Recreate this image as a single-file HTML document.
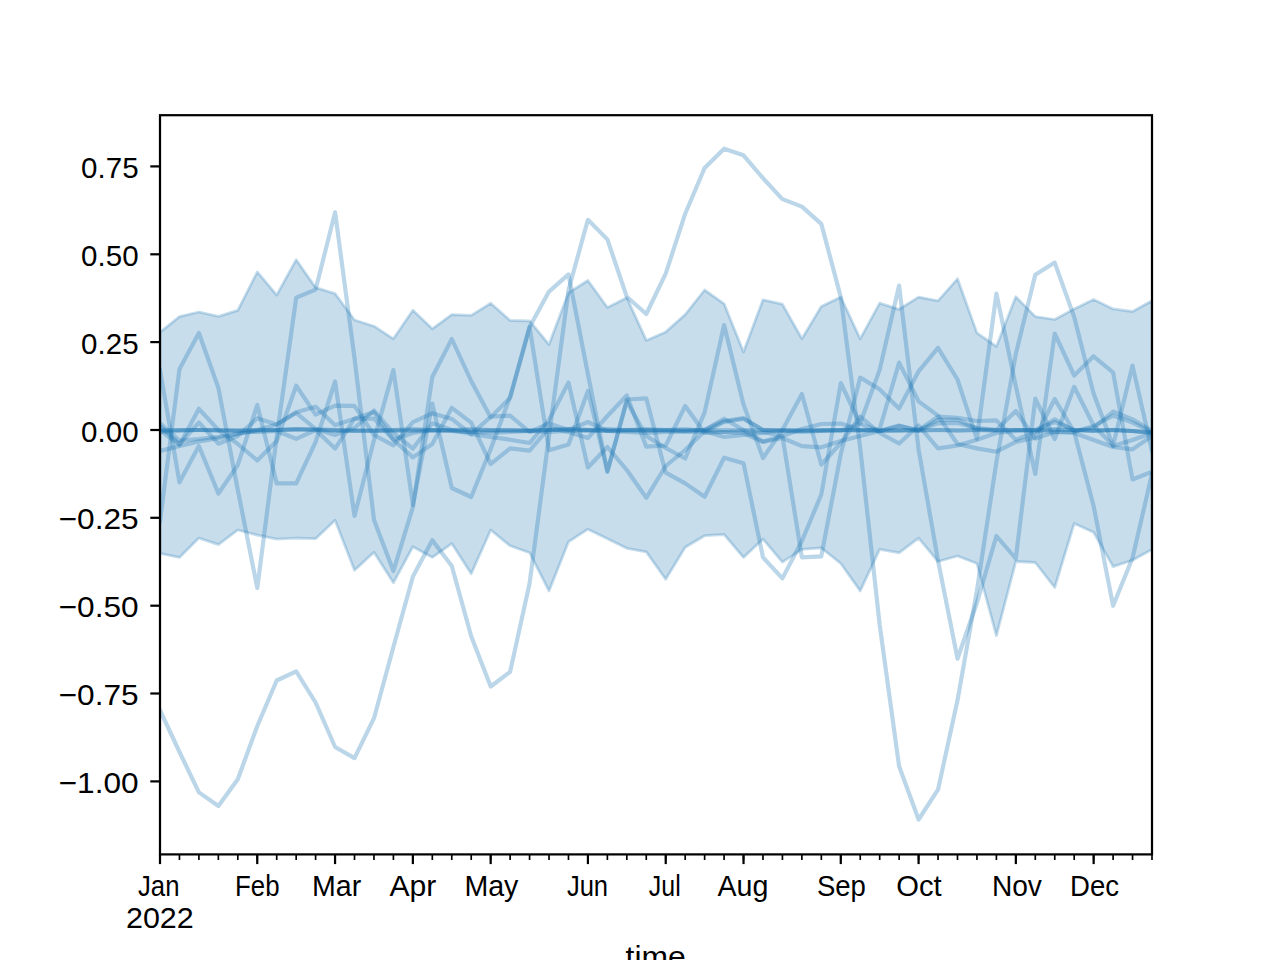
<!DOCTYPE html><html><head><meta charset="utf-8"><style>html,body{margin:0;padding:0;background:#fff}svg{display:block}text{font-family:"Liberation Sans",sans-serif;fill:#000}</style></head><body>
<svg width="1280" height="960" viewBox="0 0 1280 960">
<rect width="1280" height="960" fill="#fff"/>
<defs><clipPath id="ax"><rect x="160" y="115.2" width="992" height="739.2"/></clipPath></defs>
<g clip-path="url(#ax)">
<polygon points="160.0,332.3 179.5,316.6 198.9,312.0 218.4,316.4 237.8,310.3 257.3,271.9 276.7,295.1 296.2,259.7 315.6,287.6 335.1,293.7 354.5,320.0 374.0,326.2 393.4,338.8 412.9,310.3 432.3,328.8 451.8,314.6 471.2,315.4 490.7,303.2 510.1,320.5 529.6,320.9 549.0,344.5 568.5,292.7 587.9,280.5 607.4,307.5 626.8,297.7 646.3,340.4 665.7,331.9 685.2,314.6 704.6,290.0 724.1,303.8 743.5,352.0 763.0,299.8 782.4,304.2 801.9,338.8 821.3,306.5 840.8,297.1 860.2,338.8 879.7,303.2 899.1,309.3 918.6,297.1 938.0,300.8 957.5,278.8 976.9,332.9 996.4,346.5 1015.8,296.7 1035.3,316.6 1054.7,319.5 1074.2,308.9 1093.6,299.4 1113.1,308.9 1132.5,311.5 1152.0,300.8 1152.0,549.5 1132.5,560.2 1113.1,566.6 1093.6,532.2 1074.2,523.4 1054.7,587.5 1035.3,562.5 1015.8,561.5 996.4,635.7 976.9,563.5 957.5,556.0 938.0,561.5 918.6,538.1 899.1,552.8 879.7,549.3 860.2,590.9 840.8,563.5 821.3,547.9 801.9,549.3 782.4,562.1 763.0,539.1 743.5,557.4 724.1,534.5 704.6,535.7 685.2,547.3 665.7,579.2 646.3,551.9 626.8,548.3 607.4,538.7 587.9,529.2 568.5,541.8 549.0,590.9 529.6,552.7 510.1,545.8 490.7,530.0 471.2,573.7 451.8,543.6 432.3,557.4 412.9,546.7 393.4,582.8 374.0,552.3 354.5,570.2 335.1,520.3 315.6,538.7 296.2,538.1 276.7,539.1 257.3,535.1 237.8,530.0 218.4,544.6 198.9,538.1 179.5,557.4 160.0,553.4" fill="#1f77b4" fill-opacity="0.25" stroke="#1f77b4" stroke-opacity="0.25" stroke-width="2.78" stroke-linejoin="round"/>
<polyline points="160.0,710.2 179.5,752.0 198.9,792.4 218.4,806.0 237.8,779.2 257.3,726.0 276.7,680.5 296.2,671.4 315.6,702.5 335.1,747.0 354.5,758.1 374.0,718.2 393.4,647.0 412.9,576.5 432.3,540.2 451.8,566.0 471.2,636.3 490.7,686.5 510.1,671.9 529.6,583.3 549.0,436.0 568.5,290.0 587.9,219.8 607.4,239.4 626.8,296.8 646.3,314.0 665.7,273.7 685.2,213.7 704.6,168.0 724.1,148.7 743.5,155.3 763.0,178.2 782.4,199.1 801.9,206.6 821.3,223.9 840.8,297.1 860.2,448.0 879.7,625.0 899.1,766.3 918.6,819.5 938.0,789.7 957.5,700.3 976.9,590.6 996.4,462.0 1015.8,354.0 1035.3,274.8 1054.7,262.6 1074.2,317.0 1093.6,393.5 1113.1,446.0 1132.5,440.0 1152.0,433.0" fill="none" stroke="#1f77b4" stroke-opacity="0.3" stroke-width="4.17" stroke-linejoin="round" stroke-linecap="square"/>
<polyline points="160.0,521.0 179.5,369.0 198.9,333.0 218.4,388.0 237.8,490.0 257.3,588.0 276.7,437.0 296.2,297.7 315.6,289.6 335.1,212.3 354.5,358.0 374.0,520.0 393.4,571.0 412.9,507.0 432.3,377.0 451.8,339.0 471.2,381.0 490.7,417.4 510.1,397.6 529.6,327.0 549.0,291.6 568.5,274.4 587.9,374.0 607.4,472.0 626.8,399.5 646.3,398.4 665.7,472.7 685.2,483.4 704.6,496.7 724.1,457.7 743.5,463.2 763.0,557.4 782.4,578.4 801.9,541.0 821.3,494.5 840.8,383.0 860.2,424.0 879.7,431.0 899.1,426.0 918.6,430.0 938.0,416.7 957.5,417.8 976.9,421.0 996.4,420.4 1015.8,439.7 1035.3,432.0 1054.7,419.3 1074.2,431.0 1093.6,428.0 1113.1,411.5 1132.5,419.4 1152.0,431.0" fill="none" stroke="#1f77b4" stroke-opacity="0.3" stroke-width="4.17" stroke-linejoin="round" stroke-linecap="square"/>
<polyline points="160.0,370.0 179.5,482.3 198.9,446.0 218.4,493.5 237.8,465.0 257.3,405.0 276.7,483.4 296.2,483.4 315.6,442.0 335.1,381.5 354.5,516.0 374.0,440.0 393.4,370.0 412.9,505.0 432.3,403.5 451.8,488.0 471.2,497.0 490.7,449.0 510.1,397.0 529.6,327.0 549.0,450.3 568.5,444.5 587.9,391.0 607.4,471.0 626.8,401.5 646.3,436.0 665.7,448.0 685.2,458.5 704.6,412.4 724.1,325.0 743.5,404.4 763.0,458.0 782.4,430.0 801.9,394.0 821.3,464.5 840.8,443.0 860.2,416.5 879.7,433.0 899.1,443.5 918.6,425.5 938.0,448.4 957.5,445.5 976.9,439.7 996.4,433.0 1015.8,431.0 1035.3,430.0 1054.7,429.0 1074.2,430.0 1093.6,431.0 1113.1,430.0 1132.5,431.0 1152.0,432.0" fill="none" stroke="#1f77b4" stroke-opacity="0.3" stroke-width="4.17" stroke-linejoin="round" stroke-linecap="square"/>
<polyline points="160.0,430.0 179.5,445.0 198.9,408.8 218.4,430.0 237.8,444.0 257.3,460.5 276.7,441.0 296.2,385.7 315.6,414.7 335.1,405.6 354.5,405.8 374.0,435.0 393.4,445.3 412.9,422.2 432.3,413.3 451.8,418.9 471.2,434.4 490.7,416.7 510.1,415.6 529.6,432.0 549.0,423.5 568.5,430.0 587.9,422.0 607.4,431.0 626.8,431.0 646.3,430.0 665.7,431.0 685.2,432.0 704.6,432.0 724.1,422.0 743.5,419.0 763.0,430.0 782.4,431.0 801.9,432.0 821.3,431.0 840.8,430.0 860.2,431.0 879.7,429.0 899.1,362.6 918.6,401.4 938.0,415.6 957.5,444.0 976.9,448.4 996.4,451.7 1015.8,441.9 1035.3,437.5 1054.7,399.0 1074.2,432.0 1093.6,506.0 1113.1,605.8 1132.5,558.0 1152.0,473.8" fill="none" stroke="#1f77b4" stroke-opacity="0.3" stroke-width="4.17" stroke-linejoin="round" stroke-linecap="square"/>
<polyline points="160.0,451.0 179.5,446.0 198.9,441.4 218.4,438.3 237.8,434.0 257.3,430.0 276.7,424.4 296.2,412.2 315.6,406.7 335.1,425.3 354.5,418.7 374.0,418.7 393.4,439.7 412.9,457.4 432.3,444.0 451.8,407.8 471.2,422.7 490.7,464.0 510.1,448.4 529.6,450.6 549.0,428.0 568.5,432.0 587.9,438.0 607.4,416.0 626.8,395.5 646.3,446.7 665.7,445.5 685.2,406.0 704.6,433.0 724.1,432.0 743.5,431.0 763.0,432.0 782.4,436.0 801.9,557.4 821.3,556.4 840.8,454.0 860.2,377.5 879.7,389.4 899.1,408.5 918.6,371.3 938.0,347.8 957.5,379.5 976.9,438.8 996.4,293.6 1015.8,386.0 1035.3,474.0 1054.7,333.5 1074.2,375.5 1093.6,356.3 1113.1,372.5 1132.5,479.5 1152.0,471.7" fill="none" stroke="#1f77b4" stroke-opacity="0.3" stroke-width="4.17" stroke-linejoin="round" stroke-linecap="square"/>
<polyline points="160.0,426.0 179.5,444.0 198.9,422.5 218.4,443.7 237.8,436.0 257.3,418.2 276.7,424.4 296.2,412.8 315.6,429.0 335.1,435.0 354.5,428.0 374.0,410.5 393.4,433.0 412.9,448.6 432.3,423.3 451.8,430.0 471.2,434.0 490.7,437.0 510.1,439.7 529.6,443.0 549.0,420.0 568.5,382.5 587.9,467.5 607.4,447.0 626.8,470.0 646.3,497.8 665.7,466.0 685.2,450.0 704.6,431.0 724.1,437.0 743.5,435.0 763.0,433.0 782.4,430.0 801.9,431.0 821.3,430.0 840.8,431.0 860.2,423.3 879.7,369.6 899.1,285.5 918.6,449.5 938.0,560.5 957.5,658.7 976.9,602.8 996.4,536.0 1015.8,558.5 1035.3,398.7 1054.7,439.0 1074.2,386.8 1093.6,425.5 1113.1,445.5 1132.5,365.6 1152.0,451.0" fill="none" stroke="#1f77b4" stroke-opacity="0.3" stroke-width="4.17" stroke-linejoin="round" stroke-linecap="square"/>
<polyline points="160.0,430.0 179.5,430.0 198.9,430.0 218.4,430.0 237.8,430.0 257.3,430.0 276.7,430.0 296.2,430.0 315.6,430.0 335.1,430.0 354.5,430.0 374.0,431.0 393.4,431.0 412.9,430.0 432.3,430.0 451.8,430.0 471.2,430.0 490.7,430.0 510.1,430.0 529.6,430.0 549.0,430.0 568.5,429.0 587.9,430.0 607.4,430.0 626.8,430.0 646.3,430.0 665.7,430.0 685.2,430.0 704.6,430.0 724.1,430.0 743.5,430.0 763.0,430.0 782.4,430.0 801.9,430.0 821.3,430.0 840.8,430.0 860.2,430.0 879.7,430.0 899.1,430.0 918.6,430.0 938.0,430.0 957.5,430.0 976.9,430.0 996.4,430.0 1015.8,430.0 1035.3,430.0 1054.7,430.0 1074.2,430.0 1093.6,430.0 1113.1,430.0 1132.5,431.0 1152.0,433.0" fill="none" stroke="#1f77b4" stroke-opacity="0.3" stroke-width="4.17" stroke-linejoin="round" stroke-linecap="square"/>
<polyline points="160.0,431.0 179.5,430.0 198.9,430.0 218.4,431.0 237.8,431.0 257.3,430.0 276.7,430.0 296.2,429.0 315.6,430.0 335.1,431.0 354.5,431.0 374.0,430.0 393.4,430.0 412.9,431.0 432.3,431.0 451.8,430.0 471.2,429.0 490.7,430.0 510.1,431.0 529.6,431.0 549.0,430.0 568.5,430.0 587.9,431.0 607.4,431.0 626.8,430.0 646.3,429.0 665.7,430.0 685.2,431.0 704.6,430.0 724.1,421.0 743.5,418.0 763.0,430.0 782.4,431.0 801.9,431.0 821.3,431.0 840.8,430.0 860.2,430.0 879.7,431.0 899.1,431.0 918.6,430.0 938.0,423.3 957.5,423.0 976.9,428.0 996.4,430.0 1015.8,430.0 1035.3,430.0 1054.7,422.0 1074.2,430.0 1093.6,431.0 1113.1,430.0 1132.5,431.0 1152.0,433.0" fill="none" stroke="#1f77b4" stroke-opacity="0.3" stroke-width="4.17" stroke-linejoin="round" stroke-linecap="square"/>
<polyline points="160.0,423.4 179.5,440.6 198.9,439.0 218.4,436.7 237.8,433.5 257.3,431.0 276.7,430.0 296.2,429.0 315.6,429.0 335.1,430.0 354.5,431.0 374.0,431.0 393.4,430.0 412.9,429.0 432.3,430.0 451.8,431.0 471.2,432.0 490.7,433.0 510.1,432.0 529.6,431.0 549.0,430.0 568.5,429.0 587.9,430.0 607.4,431.0 626.8,432.0 646.3,433.0 665.7,432.0 685.2,431.0 704.6,430.0 724.1,418.7 743.5,430.0 763.0,441.5 782.4,436.0 801.9,429.0 821.3,424.0 840.8,423.6 860.2,430.0 879.7,431.0 899.1,425.5 918.6,431.0 938.0,420.0 957.5,419.6 976.9,429.0 996.4,430.0 1015.8,411.0 1035.3,438.6 1054.7,432.0 1074.2,432.0 1093.6,426.0 1113.1,415.6 1132.5,422.6 1152.0,432.0" fill="none" stroke="#1f77b4" stroke-opacity="0.3" stroke-width="4.17" stroke-linejoin="round" stroke-linecap="square"/>
<polyline points="160.0,432.0 179.5,431.0 198.9,430.0 218.4,430.0 237.8,431.0 257.3,432.0 276.7,431.0 296.2,438.8 315.6,430.0 335.1,448.6 354.5,418.7 374.0,412.0 393.4,439.7 412.9,433.0 432.3,430.0 451.8,431.0 471.2,432.0 490.7,431.0 510.1,430.0 529.6,431.0 549.0,432.0 568.5,431.0 587.9,430.0 607.4,429.0 626.8,430.0 646.3,431.0 665.7,430.0 685.2,429.0 704.6,431.0 724.1,432.0 743.5,433.0 763.0,442.0 782.4,438.0 801.9,446.2 821.3,447.3 840.8,441.0 860.2,436.0 879.7,431.0 899.1,430.0 918.6,431.0 938.0,430.0 957.5,431.0 976.9,430.0 996.4,431.0 1015.8,430.0 1035.3,431.0 1054.7,432.0 1074.2,433.0 1093.6,440.0 1113.1,447.0 1132.5,449.4 1152.0,436.0" fill="none" stroke="#1f77b4" stroke-opacity="0.3" stroke-width="4.17" stroke-linejoin="round" stroke-linecap="square"/>
</g>
<rect x="160" y="115.2" width="992" height="739.2" fill="none" stroke="#000" stroke-width="2.22" />
<line x1="150.3" x2="160" y1="166.4" y2="166.4" stroke="#000" stroke-width="2.22"/>
<text x="138.6" y="177.9" font-size="29.5" text-anchor="end" textLength="57.5" lengthAdjust="spacingAndGlyphs">0.75</text>
<line x1="150.3" x2="160" y1="254.3" y2="254.3" stroke="#000" stroke-width="2.22"/>
<text x="138.6" y="265.8" font-size="29.5" text-anchor="end" textLength="57.5" lengthAdjust="spacingAndGlyphs">0.50</text>
<line x1="150.3" x2="160" y1="342.1" y2="342.1" stroke="#000" stroke-width="2.22"/>
<text x="138.6" y="353.6" font-size="29.5" text-anchor="end" textLength="57.5" lengthAdjust="spacingAndGlyphs">0.25</text>
<line x1="150.3" x2="160" y1="430.0" y2="430.0" stroke="#000" stroke-width="2.22"/>
<text x="138.6" y="441.5" font-size="29.5" text-anchor="end" textLength="57.5" lengthAdjust="spacingAndGlyphs">0.00</text>
<line x1="150.3" x2="160" y1="517.8" y2="517.8" stroke="#000" stroke-width="2.22"/>
<text x="138.6" y="529.3" font-size="29.5" text-anchor="end" textLength="80" lengthAdjust="spacingAndGlyphs">−0.25</text>
<line x1="150.3" x2="160" y1="605.7" y2="605.7" stroke="#000" stroke-width="2.22"/>
<text x="138.6" y="617.2" font-size="29.5" text-anchor="end" textLength="80" lengthAdjust="spacingAndGlyphs">−0.50</text>
<line x1="150.3" x2="160" y1="693.5" y2="693.5" stroke="#000" stroke-width="2.22"/>
<text x="138.6" y="705.0" font-size="29.5" text-anchor="end" textLength="80" lengthAdjust="spacingAndGlyphs">−0.75</text>
<line x1="150.3" x2="160" y1="781.4" y2="781.4" stroke="#000" stroke-width="2.22"/>
<text x="138.6" y="792.9" font-size="29.5" text-anchor="end" textLength="80" lengthAdjust="spacingAndGlyphs">−1.00</text>
<line x1="160.00" x2="160.00" y1="854.4" y2="860" stroke="#000" stroke-width="1.67"/>
<line x1="179.45" x2="179.45" y1="854.4" y2="860" stroke="#000" stroke-width="1.67"/>
<line x1="198.90" x2="198.90" y1="854.4" y2="860" stroke="#000" stroke-width="1.67"/>
<line x1="218.35" x2="218.35" y1="854.4" y2="860" stroke="#000" stroke-width="1.67"/>
<line x1="237.80" x2="237.80" y1="854.4" y2="860" stroke="#000" stroke-width="1.67"/>
<line x1="257.25" x2="257.25" y1="854.4" y2="860" stroke="#000" stroke-width="1.67"/>
<line x1="276.71" x2="276.71" y1="854.4" y2="860" stroke="#000" stroke-width="1.67"/>
<line x1="296.16" x2="296.16" y1="854.4" y2="860" stroke="#000" stroke-width="1.67"/>
<line x1="315.61" x2="315.61" y1="854.4" y2="860" stroke="#000" stroke-width="1.67"/>
<line x1="335.06" x2="335.06" y1="854.4" y2="860" stroke="#000" stroke-width="1.67"/>
<line x1="354.51" x2="354.51" y1="854.4" y2="860" stroke="#000" stroke-width="1.67"/>
<line x1="373.96" x2="373.96" y1="854.4" y2="860" stroke="#000" stroke-width="1.67"/>
<line x1="393.41" x2="393.41" y1="854.4" y2="860" stroke="#000" stroke-width="1.67"/>
<line x1="412.86" x2="412.86" y1="854.4" y2="860" stroke="#000" stroke-width="1.67"/>
<line x1="432.31" x2="432.31" y1="854.4" y2="860" stroke="#000" stroke-width="1.67"/>
<line x1="451.76" x2="451.76" y1="854.4" y2="860" stroke="#000" stroke-width="1.67"/>
<line x1="471.22" x2="471.22" y1="854.4" y2="860" stroke="#000" stroke-width="1.67"/>
<line x1="490.67" x2="490.67" y1="854.4" y2="860" stroke="#000" stroke-width="1.67"/>
<line x1="510.12" x2="510.12" y1="854.4" y2="860" stroke="#000" stroke-width="1.67"/>
<line x1="529.57" x2="529.57" y1="854.4" y2="860" stroke="#000" stroke-width="1.67"/>
<line x1="549.02" x2="549.02" y1="854.4" y2="860" stroke="#000" stroke-width="1.67"/>
<line x1="568.47" x2="568.47" y1="854.4" y2="860" stroke="#000" stroke-width="1.67"/>
<line x1="587.92" x2="587.92" y1="854.4" y2="860" stroke="#000" stroke-width="1.67"/>
<line x1="607.37" x2="607.37" y1="854.4" y2="860" stroke="#000" stroke-width="1.67"/>
<line x1="626.82" x2="626.82" y1="854.4" y2="860" stroke="#000" stroke-width="1.67"/>
<line x1="646.27" x2="646.27" y1="854.4" y2="860" stroke="#000" stroke-width="1.67"/>
<line x1="665.73" x2="665.73" y1="854.4" y2="860" stroke="#000" stroke-width="1.67"/>
<line x1="685.18" x2="685.18" y1="854.4" y2="860" stroke="#000" stroke-width="1.67"/>
<line x1="704.63" x2="704.63" y1="854.4" y2="860" stroke="#000" stroke-width="1.67"/>
<line x1="724.08" x2="724.08" y1="854.4" y2="860" stroke="#000" stroke-width="1.67"/>
<line x1="743.53" x2="743.53" y1="854.4" y2="860" stroke="#000" stroke-width="1.67"/>
<line x1="762.98" x2="762.98" y1="854.4" y2="860" stroke="#000" stroke-width="1.67"/>
<line x1="782.43" x2="782.43" y1="854.4" y2="860" stroke="#000" stroke-width="1.67"/>
<line x1="801.88" x2="801.88" y1="854.4" y2="860" stroke="#000" stroke-width="1.67"/>
<line x1="821.33" x2="821.33" y1="854.4" y2="860" stroke="#000" stroke-width="1.67"/>
<line x1="840.78" x2="840.78" y1="854.4" y2="860" stroke="#000" stroke-width="1.67"/>
<line x1="860.24" x2="860.24" y1="854.4" y2="860" stroke="#000" stroke-width="1.67"/>
<line x1="879.69" x2="879.69" y1="854.4" y2="860" stroke="#000" stroke-width="1.67"/>
<line x1="899.14" x2="899.14" y1="854.4" y2="860" stroke="#000" stroke-width="1.67"/>
<line x1="918.59" x2="918.59" y1="854.4" y2="860" stroke="#000" stroke-width="1.67"/>
<line x1="938.04" x2="938.04" y1="854.4" y2="860" stroke="#000" stroke-width="1.67"/>
<line x1="957.49" x2="957.49" y1="854.4" y2="860" stroke="#000" stroke-width="1.67"/>
<line x1="976.94" x2="976.94" y1="854.4" y2="860" stroke="#000" stroke-width="1.67"/>
<line x1="996.39" x2="996.39" y1="854.4" y2="860" stroke="#000" stroke-width="1.67"/>
<line x1="1015.84" x2="1015.84" y1="854.4" y2="860" stroke="#000" stroke-width="1.67"/>
<line x1="1035.29" x2="1035.29" y1="854.4" y2="860" stroke="#000" stroke-width="1.67"/>
<line x1="1054.75" x2="1054.75" y1="854.4" y2="860" stroke="#000" stroke-width="1.67"/>
<line x1="1074.20" x2="1074.20" y1="854.4" y2="860" stroke="#000" stroke-width="1.67"/>
<line x1="1093.65" x2="1093.65" y1="854.4" y2="860" stroke="#000" stroke-width="1.67"/>
<line x1="1113.10" x2="1113.10" y1="854.4" y2="860" stroke="#000" stroke-width="1.67"/>
<line x1="1132.55" x2="1132.55" y1="854.4" y2="860" stroke="#000" stroke-width="1.67"/>
<line x1="1152.00" x2="1152.00" y1="854.4" y2="860" stroke="#000" stroke-width="1.67"/>
<line x1="160.00" x2="160.00" y1="854.4" y2="864.1" stroke="#000" stroke-width="2.22"/>
<text x="138.0" y="895.6" font-size="29.5" textLength="41.5" lengthAdjust="spacingAndGlyphs">Jan</text>
<line x1="257.25" x2="257.25" y1="854.4" y2="864.1" stroke="#000" stroke-width="2.22"/>
<text x="235.0" y="895.6" font-size="29.5" textLength="44.5" lengthAdjust="spacingAndGlyphs">Feb</text>
<line x1="335.06" x2="335.06" y1="854.4" y2="864.1" stroke="#000" stroke-width="2.22"/>
<text x="312.0" y="895.6" font-size="29.5" textLength="49.2" lengthAdjust="spacingAndGlyphs">Mar</text>
<line x1="412.86" x2="412.86" y1="854.4" y2="864.1" stroke="#000" stroke-width="2.22"/>
<text x="389.4" y="895.6" font-size="29.5" textLength="46.9" lengthAdjust="spacingAndGlyphs">Apr</text>
<line x1="490.67" x2="490.67" y1="854.4" y2="864.1" stroke="#000" stroke-width="2.22"/>
<text x="464.4" y="895.6" font-size="29.5" textLength="54.0" lengthAdjust="spacingAndGlyphs">May</text>
<line x1="587.92" x2="587.92" y1="854.4" y2="864.1" stroke="#000" stroke-width="2.22"/>
<text x="566.9" y="895.6" font-size="29.5" textLength="41.2" lengthAdjust="spacingAndGlyphs">Jun</text>
<line x1="665.73" x2="665.73" y1="854.4" y2="864.1" stroke="#000" stroke-width="2.22"/>
<text x="648.8" y="895.6" font-size="29.5" textLength="31.9" lengthAdjust="spacingAndGlyphs">Jul</text>
<line x1="743.53" x2="743.53" y1="854.4" y2="864.1" stroke="#000" stroke-width="2.22"/>
<text x="717.5" y="895.6" font-size="29.5" textLength="50.9" lengthAdjust="spacingAndGlyphs">Aug</text>
<line x1="840.78" x2="840.78" y1="854.4" y2="864.1" stroke="#000" stroke-width="2.22"/>
<text x="816.9" y="895.6" font-size="29.5" textLength="49.0" lengthAdjust="spacingAndGlyphs">Sep</text>
<line x1="918.59" x2="918.59" y1="854.4" y2="864.1" stroke="#000" stroke-width="2.22"/>
<text x="896.2" y="895.6" font-size="29.5" textLength="45.4" lengthAdjust="spacingAndGlyphs">Oct</text>
<line x1="1015.84" x2="1015.84" y1="854.4" y2="864.1" stroke="#000" stroke-width="2.22"/>
<text x="991.9" y="895.6" font-size="29.5" textLength="50.0" lengthAdjust="spacingAndGlyphs">Nov</text>
<line x1="1093.65" x2="1093.65" y1="854.4" y2="864.1" stroke="#000" stroke-width="2.22"/>
<text x="1070.0" y="895.6" font-size="29.5" textLength="49.0" lengthAdjust="spacingAndGlyphs">Dec</text>
<text x="126" y="927.6" font-size="29.5" textLength="67.75" lengthAdjust="spacingAndGlyphs">2022</text>
<text x="625.6" y="966.8" font-size="29.5" textLength="60.2" lengthAdjust="spacingAndGlyphs">time</text>
</svg></body></html>
